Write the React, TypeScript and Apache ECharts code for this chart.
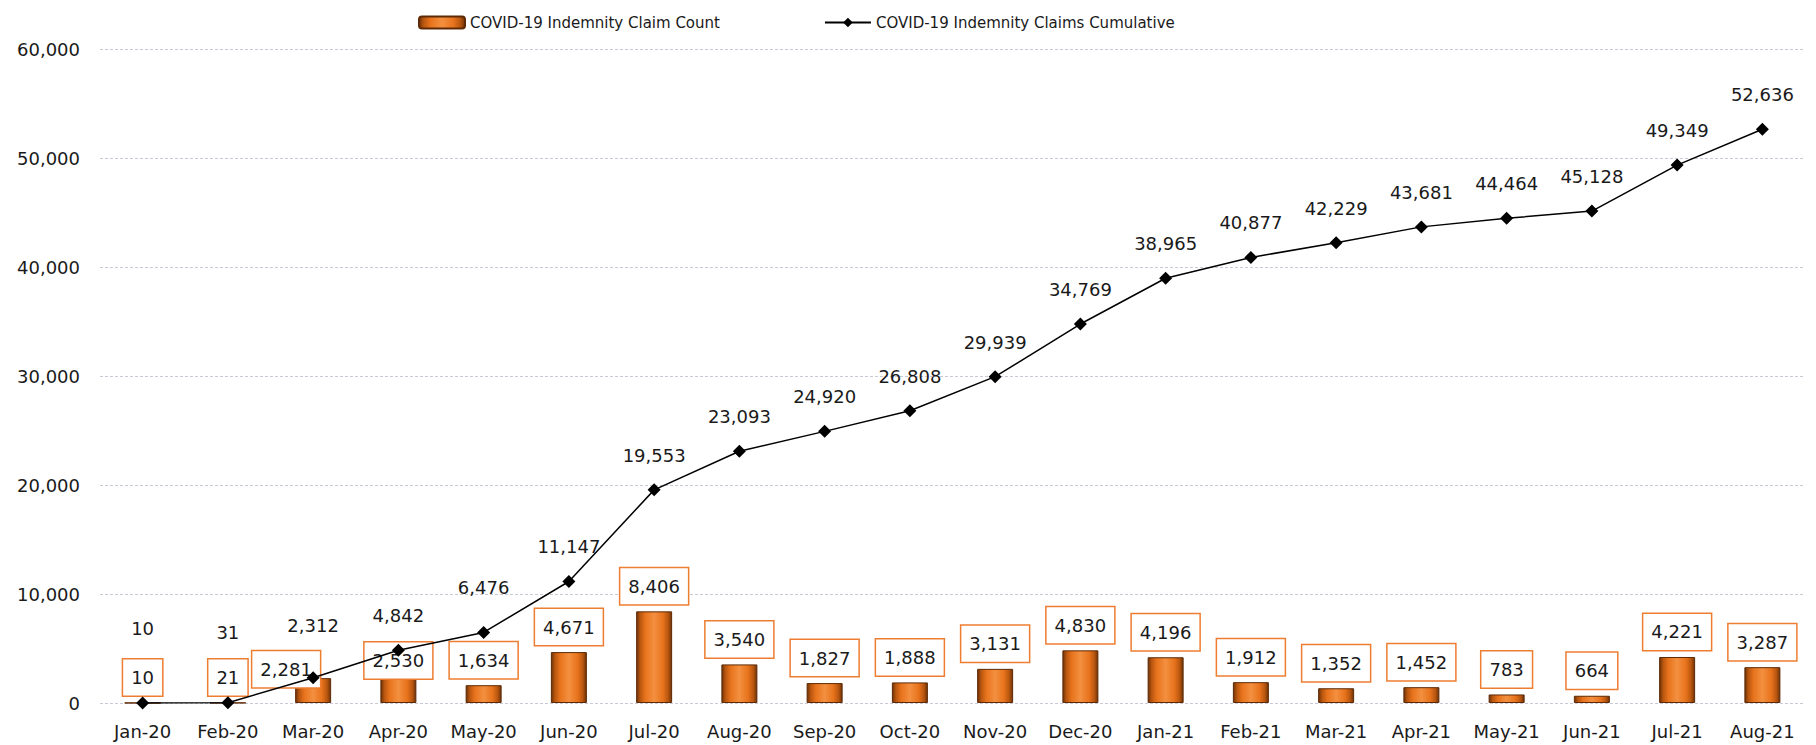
import React, { useEffect, useRef } from "react";
import * as echarts from "echarts";

const categories = [
  "Jan-20", "Feb-20", "Mar-20", "Apr-20", "May-20", "Jun-20", "Jul-20", "Aug-20", "Sep-20", "Oct-20",
  "Nov-20", "Dec-20", "Jan-21", "Feb-21", "Mar-21", "Apr-21", "May-21", "Jun-21", "Jul-21", "Aug-21",
];
const claimCount = [10, 21, 2281, 2530, 1634, 4671, 8406, 3540, 1827, 1888, 3131, 4830, 4196, 1912, 1352, 1452, 783, 664, 4221, 3287];
const claimsCumulative = [10, 31, 2312, 4842, 6476, 11147, 19553, 23093, 24920, 26808, 29939, 34769, 38965, 40877, 42229, 43681, 44464, 45128, 49349, 52636];
const yTicks = { min: 0, max: 60000, interval: 10000 };

const FONT = "DejaVu Sans";
const fmt = (v: number) => v.toLocaleString("en-US");

export default function App() {
  const ref = useRef<HTMLDivElement>(null);
  useEffect(() => {
    if (!ref.current) return;
    const chart = echarts.init(ref.current, null, { renderer: "svg" });
    const barGradient = new echarts.graphic.LinearGradient(0, 0, 1, 0, [
      { offset: 0, color: "#6e3208" },
      { offset: 0.1, color: "#b8560f" },
      { offset: 0.25, color: "#e8731c" },
      { offset: 0.5, color: "#f39040" },
      { offset: 0.75, color: "#e8731c" },
      { offset: 0.9, color: "#b8560f" },
      { offset: 1, color: "#6e3208" },
    ]);
    // label adjustments (pixels) for crowded early points
    const lineExtra: Record<number, number> = { 0: 40, 1: 36, 2: 18, 4: 10 };
    const barShift: Record<number, [number, number]> = { 2: [-27, 16], 3: [0, 10] };

    const barData = claimCount.map((v, i) =>
      barShift[i] ? { value: v, label: { offset: barShift[i] } } : v
    );
    const lineData = claimsCumulative.map((v, i) =>
      lineExtra[i] ? { value: v, label: { offset: [0, -lineExtra[i]] } } : v
    );

    chart.setOption({
      animation: false,
      textStyle: { fontFamily: FONT },
      legend: {
        top: 10,
        left: 413,
        itemWidth: 46,
        itemHeight: 12,
        itemGap: 104,
        textStyle: { fontFamily: FONT, fontSize: 15, color: "#1a1a1a" },
        data: ["COVID-19 Indemnity Claim Count", "COVID-19 Indemnity Claims Cumulative"],
      },
      grid: { left: 100, right: 11, top: 49, bottom: 42, containLabel: false },
      xAxis: {
        type: "category",
        data: categories,
        axisLine: { show: false },
        axisTick: { show: false },
        axisLabel: { fontFamily: FONT, fontSize: 18, color: "#1a1a1a", margin: 19, interval: 0 },
      },
      yAxis: {
        type: "value",
        min: yTicks.min,
        max: yTicks.max,
        interval: yTicks.interval,
        axisLine: { show: false },
        axisTick: { show: false },
        axisLabel: { fontFamily: FONT, fontSize: 18, color: "#1a1a1a", margin: 20, formatter: (v: number) => fmt(v) },
        splitLine: { lineStyle: { color: "#c9c9d6", type: [3, 2], width: 1 } },
      },
      series: [
        {
          name: "COVID-19 Indemnity Claim Count",
          type: "bar",
          barWidth: 36,
          z: 2,
          data: barData,
          itemStyle: { color: barGradient, borderColor: "#5e2a06", borderWidth: 1 },
          label: {
            show: true,
            position: "top",
            distance: 7,
            fontFamily: FONT,
            fontSize: 18,
            color: "#1a1a1a",
            backgroundColor: "#ffffff",
            borderColor: "#ED7D31",
            borderWidth: 1.5,
            padding: [9, 8],
            formatter: (p: any) => fmt(p.value),
          },
        },
        {
          name: "COVID-19 Indemnity Claims Cumulative",
          type: "line",
          z: 3,
          data: lineData,
          symbol: "diamond",
          symbolSize: 13,
          lineStyle: { color: "#000000", width: 1.5 },
          itemStyle: { color: "#000000" },
          label: {
            show: true,
            position: "top",
            distance: 19,
            fontFamily: FONT,
            fontSize: 18,
            color: "#1a1a1a",
            formatter: (p: any) => fmt(p.value),
          },
        },
      ],
    });
    return () => chart.dispose();
  }, []);
  return <div ref={ref} style={{ position: "fixed", left: 0, top: 0, width: 1816, height: 745, background: "#fff" }} />;
}
